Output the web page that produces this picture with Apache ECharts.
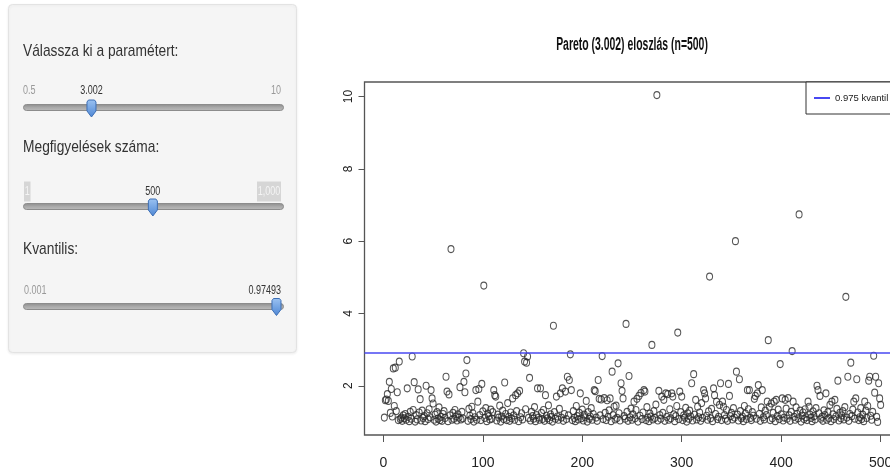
<!DOCTYPE html>
<html><head><meta charset="utf-8">
<script src="https://cdn.jsdelivr.net/npm/echarts@6/dist/echarts.min.js"></script>
<style>html,body{margin:0;padding:0;background:#fff}#c{width:890px;height:470px}</style>
</head><body><div id="c"></div>
<script>
// ---------- data ----------
const chartTitle = 'Pareto (3.002) eloszlás (n=500)';
const xTicks = [0, 100, 200, 300, 400, 500];
const yTicks = [2, 4, 6, 8, 10];
const quantileName = '0.975 kvantil';
const quantileValue = [2.92];
const values = [
  1.12,1.60,1.62,1.77,1.58,2.11,1.25,1.91,1.15,2.48,1.44,2.50,1.30,1.82,1.05,2.67,1.08,1.12,1.03,1.18,
  1.10,1.22,1.06,1.93,1.14,1.02,1.28,1.09,2.81,1.33,2.10,1.01,1.19,1.07,1.90,1.26,1.63,1.04,1.31,1.11,
  1.16,1.02,2.00,1.24,1.08,1.35,1.13,1.88,1.65,1.51,1.06,1.20,1.01,1.27,1.09,1.40,1.05,1.14,1.03,1.22,
  1.30,1.11,2.25,1.84,1.02,1.76,1.18,5.78,1.06,1.25,1.09,1.33,1.15,1.04,1.21,1.12,1.96,1.07,1.28,1.10,
  2.11,1.82,2.34,2.71,1.03,1.36,1.17,1.08,1.42,1.24,1.01,1.13,1.88,1.06,1.56,1.91,1.19,1.05,2.05,1.29,
  4.77,1.11,1.38,1.02,1.23,1.16,1.07,1.34,1.09,1.27,1.88,1.74,1.70,1.04,1.20,1.12,1.45,1.01,1.15,1.31,
  1.08,2.09,1.22,1.05,1.52,1.14,1.03,1.26,1.10,1.65,1.18,1.06,1.74,1.30,1.79,1.02,1.86,1.13,1.24,1.07,
  2.90,2.67,1.35,2.64,2.81,1.11,2.22,1.04,1.28,1.16,1.09,1.41,1.02,1.19,1.93,1.12,1.06,1.93,1.25,1.08,
  1.33,1.03,1.74,1.17,1.10,1.46,1.05,1.21,1.14,1.01,3.66,1.27,1.09,1.70,1.15,1.06,1.36,1.79,1.12,1.93,
  1.03,1.22,1.84,1.08,2.25,1.18,2.16,2.87,1.88,1.05,1.30,1.11,1.02,1.44,1.16,1.07,1.25,1.79,1.10,1.34,
  1.04,1.20,1.13,1.58,1.01,1.27,1.09,1.15,1.38,1.06,1.22,1.88,1.85,1.12,1.03,2.16,1.64,1.18,1.62,2.82,
  1.08,1.66,1.25,1.05,1.60,1.14,1.32,1.65,1.02,2.39,1.19,1.42,1.07,1.45,1.11,2.62,1.24,1.04,2.07,1.86,
  1.65,1.16,1.09,3.71,1.28,1.03,2.27,1.13,1.37,1.06,1.21,1.56,1.10,1.33,1.64,1.01,1.72,1.17,1.80,1.08,
  1.26,1.88,1.84,1.05,1.41,1.12,1.02,1.23,1.15,3.13,1.07,1.30,1.11,1.48,10.04,1.04,1.86,1.19,1.09,1.70,
  1.25,1.61,1.03,1.79,1.14,1.77,1.06,1.35,1.10,1.79,1.70,1.21,1.02,1.16,1.44,3.47,1.08,1.84,1.27,1.70,
  1.05,1.18,1.12,1.39,1.01,1.24,1.09,1.31,1.15,2.07,1.04,2.32,1.20,1.61,1.07,1.42,1.13,1.26,1.03,1.52,
  1.11,1.88,1.79,1.65,1.17,1.06,1.29,5.02,1.10,1.36,1.02,1.93,1.74,1.22,1.56,1.08,1.14,1.47,2.07,1.05,
  1.56,1.42,1.19,1.09,1.33,1.03,2.05,1.72,1.16,1.25,1.07,1.38,1.12,6.00,2.39,1.20,1.04,2.18,1.30,1.10,
  1.15,1.02,1.44,1.23,1.08,1.88,1.35,1.88,1.11,1.05,1.27,1.17,1.64,1.72,1.09,1.79,2.02,1.22,1.03,1.40,
  1.88,1.13,1.07,1.31,1.19,1.56,3.26,1.42,1.05,1.51,1.10,1.25,1.56,1.02,1.61,1.16,1.34,1.08,2.60,1.21,
  1.65,1.04,1.12,1.61,1.37,1.09,1.66,1.18,1.03,1.28,2.96,1.56,1.14,1.06,1.40,1.22,1.10,6.74,1.31,1.01,
  1.17,1.26,1.08,1.35,1.13,1.05,1.56,1.42,1.20,1.11,1.02,1.29,1.16,1.07,1.38,2.00,1.88,1.24,1.72,1.09,
  1.14,1.03,1.32,1.19,1.79,1.06,1.27,1.11,1.47,1.02,1.56,1.21,1.08,1.61,1.15,1.36,2.14,1.04,1.25,1.10,
  1.18,1.30,1.07,1.41,4.46,1.12,2.25,1.03,1.22,2.64,1.16,1.34,1.56,1.09,1.65,2.18,1.26,1.05,1.13,1.38,
  1.08,1.20,1.02,1.56,1.31,1.11,1.44,2.14,2.25,1.17,1.06,1.28,2.83,1.81,2.25,1.14,1.00,2.07,1.65,1.47
];
// sidebar (Shiny input panel)
const sliderLabels = ['Válassza ki a paramétert:', 'Megfigyelések száma:', 'Kvantilis:'];
const sliderMin = [0.5, 1, 0.001];
const sliderMax = [10, 1000, 1];
const sliderValue = [3.002, 500, 0.97493];
const sliderMinText = ['0.5', '1', '0.001'];
const sliderMaxText = ['10', '1,000', ''];
const sliderValueText = ['3.002', '500', '0.97493'];

// ---------- chart ----------
const FONT = "'Liberation Sans', Arial, sans-serif";
function hasFont(f) {
  const c = document.createElement('canvas').getContext('2d');
  const s = 'abcdefghijklmnop 0.975 kvantil';
  c.font = '40px monospace'; const a = c.measureText(s).width;
  c.font = "40px '" + f + "', monospace"; return c.measureText(s).width !== a;
}
const NARROW = hasFont('Liberation Sans Narrow');
const legendFont = NARROW ? "'Liberation Sans Narrow'" : FONT;
const legendSize = NARROW ? 12 : 9.5;

const n = values.length;
const pts = values.map((v, i) => [i + 1, v]);
const xr = [1 - 0.04 * (n - 1), n + 0.04 * (n - 1)];
const vmin = Math.min(...values), vmax = Math.max(...values);
const yr = [vmin - 0.04 * (vmax - vmin), vmax + 0.04 * (vmax - vmin)];

const G = echarts.graphic;
const els = [];
// panel
els.push({type:'rect', shape:{x:8.5, y:4.5, width:288, height:348, r:4},
  style:{fill:'#f5f5f5', stroke:'#e3e3e3', lineWidth:1, shadowBlur:3, shadowColor:'rgba(0,0,0,0.07)', shadowOffsetY:1}});
const headY = [51, 147, 249];
const labY = [91, 191.5, 291];
const trackY = [104, 203, 303];
const handleTop = [100, 199, 298.5];
const TX0 = 23, TW = 260;
function txt(x, y, s, size, color, align, scale, extra) {
  return Object.assign({type:'text', x:x, y:y, scaleX:scale,
    style:Object.assign({text:s, fontSize:size, fontFamily:FONT, fill:color,
      align:align, textAlign:align, verticalAlign:'middle', textVerticalAlign:'middle'}, extra || {})});
}
for (let k = 0; k < 3; k++) {
  els.push(txt(TX0, headY[k], sliderLabels[k], 17, '#333', 'left', 0.81));
  els.push({type:'rect', shape:{x:TX0 + 0.5, y:trackY[k] + 0.5, width:TW, height:6, r:3},
    style:{fill:new G.LinearGradient(0,0,0,1,[{offset:0,color:'#8a8a8a'},{offset:0.5,color:'#a9a9a9'},{offset:1,color:'#bdbdbd'}]),
      stroke:'#8c8c8c', lineWidth:1}});
  const frac = (sliderValue[k] - sliderMin[k]) / (sliderMax[k] - sliderMin[k]);
  const cx = TX0 + frac * TW;
  const t = handleTop[k];
  els.push({type:'polygon', shape:{points:[[cx-4.5,t+2],[cx-3,t],[cx+3,t],[cx+4.5,t+2],[cx+4.5,t+11],[cx,t+17],[cx-4.5,t+11]]},
    style:{fill:new G.LinearGradient(0,0,0,1,[{offset:0,color:'#9cc3f2'},{offset:1,color:'#4d86d4'}]), stroke:'#3d6fb5', lineWidth:1}});
  if (k === 1) {
    els.push(txt(TX0 + 1, labY[k], sliderMinText[k], 12, '#f4f4f4', 'left', 0.75, {backgroundColor:'#d6d6d6', padding:[4,1,4,1]}));
    els.push(txt(TX0 + TW - 2, labY[k], sliderMaxText[k], 12, '#f4f4f4', 'right', 0.75, {backgroundColor:'#d6d6d6', padding:[4,1,4,1]}));
    els.push(txt(cx, labY[k], sliderValueText[k], 12, '#333', 'center', 0.75));
  } else if (k === 0) {
    els.push(txt(TX0, labY[k], sliderMinText[k], 12, '#999', 'left', 0.75));
    els.push(txt(TX0 + TW - 2, labY[k], sliderMaxText[k], 12, '#999', 'right', 0.75));
    els.push(txt(cx, labY[k], sliderValueText[k], 12, '#333', 'center', 0.75));
  } else {
    els.push(txt(TX0 + 1, labY[k], sliderMinText[k], 12, '#999', 'left', 0.75));
    els.push(txt(TX0 + TW - 2, labY[k], sliderValueText[k], 12, '#333', 'right', 0.75));
  }
}
// plot title
els.push(txt(632, 45, chartTitle, 18, '#111', 'center', 0.58, {fontWeight:'bold'}));

const chart = echarts.init(document.getElementById('c'), null, {renderer:'canvas'});
chart.setOption({
  animation:false,
  backgroundColor:'#fff',
  textStyle:{fontFamily:FONT},
  graphic:{elements:els},
  grid:{left:364.5, top:82, width:536, height:353, show:true, borderColor:'#555', borderWidth:1.3,
    backgroundColor:'transparent', containLabel:false, outerBoundsMode:'none'},
  xAxis:{type:'value', min:xr[0], max:xr[1], splitLine:{show:false},
    axisLine:{show:false, onZero:false},
    axisTick:{show:true, customValues:xTicks, length:7, lineStyle:{color:'#555', width:1}},
    axisLabel:{customValues:xTicks, margin:21, fontSize:14, color:'#222', fontFamily:FONT}},
  yAxis:{type:'value', min:yr[0], max:yr[1], splitLine:{show:false},
    axisLine:{show:false, onZero:false},
    axisTick:{show:true, customValues:yTicks, length:6, lineStyle:{color:'#555', width:1}},
    axisLabel:{customValues:yTicks, rotate:90, margin:10, fontSize:12, color:'#222', fontFamily:FONT}},
  legend:{left:806, top:82, orient:'vertical', padding:[11, 40, 11, 8], borderColor:'#333', borderWidth:1,
    backgroundColor:'#fff', itemWidth:16, itemHeight:2, selectedMode:false,
    textStyle:{fontSize:legendSize, color:'#222', fontFamily:legendFont},
    data:[{name:quantileName, icon:'rect'}]},
  series:[
    {type:'scatter', data:pts, symbol:'circle', symbolSize:[6,7], silent:true,
      itemStyle:{color:'rgba(0,0,0,0)', borderColor:'#2a2a2a', borderWidth:1.1}},
    {type:'line', name:quantileName, data:[], color:'#4848f2', silent:true,
      markLine:{silent:true, symbol:'none', label:{show:false}, animation:false,
        lineStyle:{color:'#4848f2', width:1.5, type:'solid'},
        data:[{yAxis:quantileValue[0]}]}}
  ]
});
</script>
</body></html>
